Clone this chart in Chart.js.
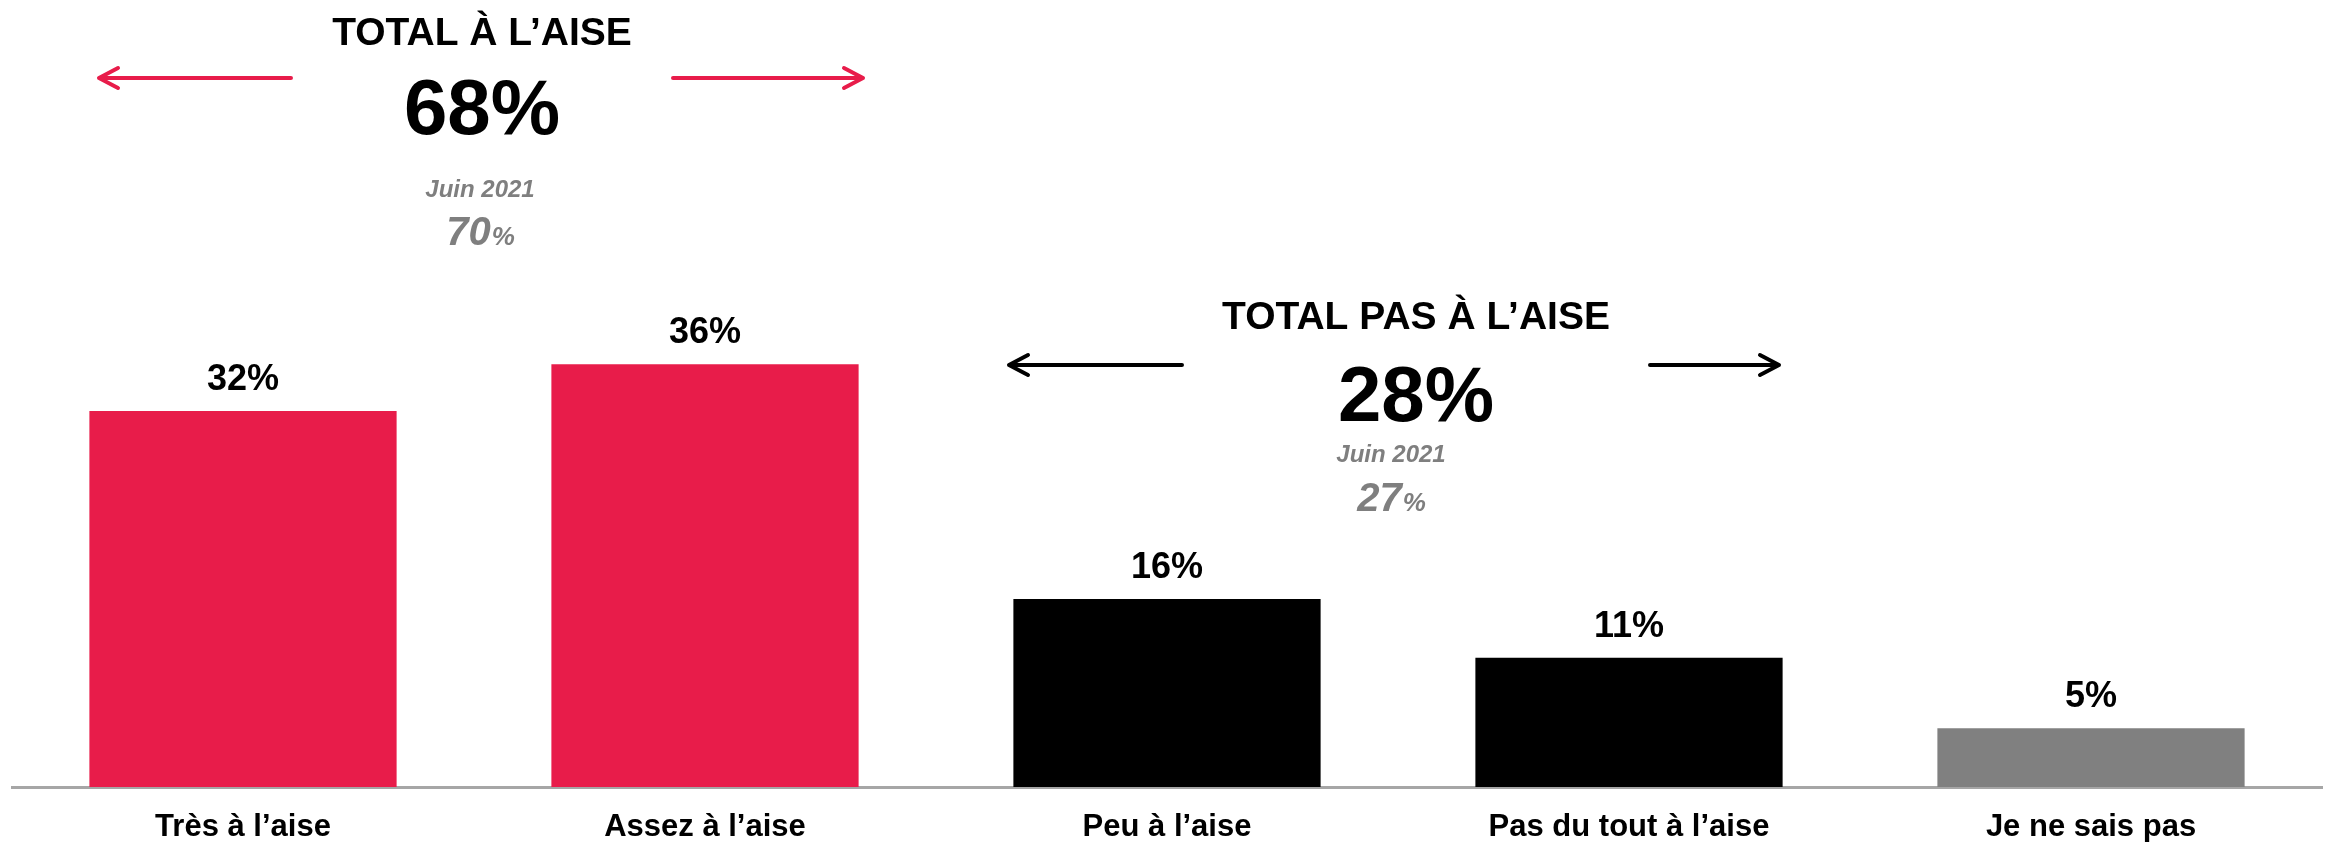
<!DOCTYPE html>
<html>
<head>
<meta charset="utf-8">
<script src="https://cdn.jsdelivr.net/npm/chart.js@4.4.1/dist/chart.umd.min.js"></script>
<style>
    html, body { margin: 0; padding: 0; background: #fff; }
    .container { width: 2326px; height: 842px; position: relative; }
</style>
</head>
<body>
<div class="container">
    <canvas id="myChart" width="2326" height="842"></canvas>
</div>
<script>
const categories = [
    "Très à l\u2019aise",
    "Assez à l\u2019aise",
    "Peu à l\u2019aise",
    "Pas du tout à l\u2019aise",
    "Je ne sais pas"
];
const values = [32, 36, 16, 11, 5];
const barColors = ["#e81c4a", "#e81c4a", "#000000", "#000000", "#808080"];

// totals shown above the bars
const groupTitles = ["TOTAL À L\u2019AISE", "TOTAL PAS À L\u2019AISE"];
const groupTotals = [68, 28];
const previousLabel = "Juin 2021";
const previousTotals = [70, 27];

const FONT = "'Liberation Sans', Arial, sans-serif";
const GREY = "#7f7f7f";

// layout of the two total blocks (pixels)
const blocks = [
    { cx: 482, titleY: 45, totalY: 134, arrowY: 78, arrows: [99, 291, 673, 863], prevX: 480, prevY: 197, prevTotY: 245, color: "#e81c4a" },
    { cx: 1416, titleY: 329, totalY: 421, arrowY: 365, arrows: [1009, 1182, 1650, 1779], prevX: 1391, prevY: 462, prevTotY: 511, color: "#000000" }
];

function arrow(ctx, x1, x2, y, headLeft, color) {
    ctx.save();
    ctx.strokeStyle = color;
    ctx.lineWidth = 4;
    ctx.lineCap = "round";
    ctx.lineJoin = "round";
    ctx.beginPath();
    ctx.moveTo(x1, y);
    ctx.lineTo(x2, y);
    const hx = headLeft ? x1 : x2;
    const d = headLeft ? 1 : -1;
    ctx.moveTo(hx + d * 19, y - 10);
    ctx.lineTo(hx, y);
    ctx.lineTo(hx + d * 19, y + 10);
    ctx.stroke();
    ctx.restore();
}

const overlay = {
    id: "overlay",
    afterDatasetsDraw(chart) {
        const ctx = chart.ctx;
        const meta = chart.getDatasetMeta(0);

        // value labels
        ctx.save();
        ctx.fillStyle = "#000";
        ctx.font = "bold 36px " + FONT;
        ctx.textAlign = "center";
        ctx.textBaseline = "middle";
        meta.data.forEach((bar, i) => {
            ctx.fillText(values[i] + "%", bar.x, bar.y - 31);
        });

        // total blocks
        ctx.textBaseline = "alphabetic";
        blocks.forEach((b, i) => {
            ctx.fillStyle = "#000";
            ctx.font = "bold 39px " + FONT;
            ctx.fillText(groupTitles[i], b.cx, b.titleY);
            ctx.font = "bold 78px " + FONT;
            ctx.fillText(groupTotals[i] + "%", b.cx, b.totalY);

            arrow(ctx, b.arrows[0], b.arrows[1], b.arrowY, true, b.color);
            arrow(ctx, b.arrows[2], b.arrows[3], b.arrowY, false, b.color);

            ctx.fillStyle = GREY;
            ctx.font = "italic bold 24px " + FONT;
            ctx.textAlign = "center";
            ctx.fillText(previousLabel, b.prevX, b.prevY);

            const num = String(previousTotals[i]);
            ctx.font = "italic bold 40px " + FONT;
            const w1 = ctx.measureText(num).width;
            ctx.font = "italic bold 26px " + FONT;
            const w2 = ctx.measureText("%").width;
            const left = b.prevX - (w1 + w2) / 2;
            ctx.textAlign = "left";
            ctx.font = "italic bold 40px " + FONT;
            ctx.fillText(num, left, b.prevTotY);
            ctx.font = "italic bold 26px " + FONT;
            ctx.fillText("%", left + w1 + 1, b.prevTotY);
            ctx.textAlign = "center";
        });
        ctx.restore();
    }
};

const ctx = document.getElementById("myChart").getContext("2d");

new Chart(ctx, {
    type: "bar",
    plugins: [overlay],
    data: {
        labels: categories,
        datasets: [
            {
                data: values,
                backgroundColor: barColors,
                categoryPercentage: 1,
                barPercentage: 0.665
            }
        ]
    },
    options: {
        responsive: false,
        animation: false,
        layout: {
            padding: { left: 12, right: 4, top: 0, bottom: 0 }
        },
        plugins: {
            legend: { display: false },
            tooltip: { enabled: false }
        },
        scales: {
            x: {
                afterFit: (scale) => { scale.height = 55; },
                grid: { display: false, drawTicks: false },
                border: { display: true, color: "#a6a6a6", width: 3 },
                ticks: {
                    color: "#000",
                    padding: 22,
                    font: { family: FONT, size: 31, weight: "bold" }
                }
            },
            y: {
                display: false,
                min: 0,
                max: 67
            }
        }
    }
});
</script>
</body>
</html>
